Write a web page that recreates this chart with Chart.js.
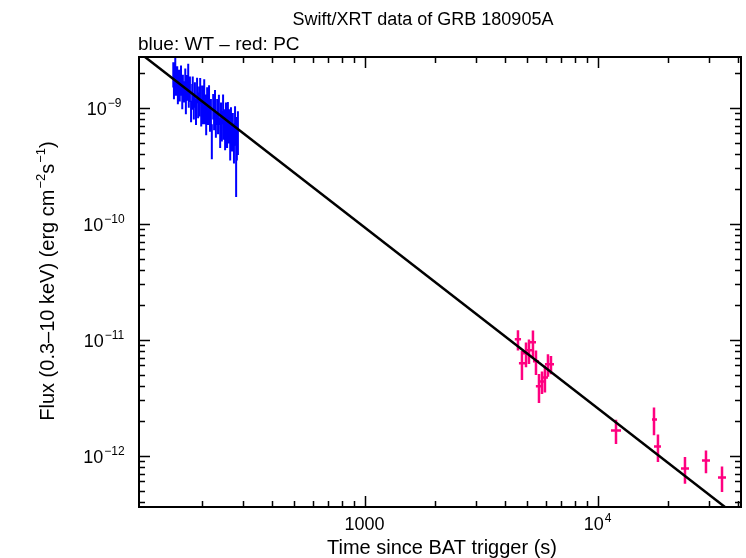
<!DOCTYPE html>
<html>
<head>
<meta charset="utf-8">
<script src="https://cdn.jsdelivr.net/npm/chart.js@4/dist/chart.umd.min.js"></script>
<style>
  body { margin: 0; background: #fff; }
  canvas { display: block; }
</style>
</head>
<body>
<canvas id="grafico" width="746" height="558"></canvas>
<script>
// Dados WT (azul): tempo (s), fluxo e erro do fluxo
const wtTime = [151,152,154,155,157,158,160,161,163,165,166,168,170,171,173,175,176,178,180,182,
  183,185,187,189,191,193,195,197,199,201,203,205,207,209,211,213,215,217,219,221,
  224,226,228,230,233,235,237,240,242,244,247,249,252,254,257,259,262,265,267,270,
  272,275,278,281,283,286];
const wtFlux = [1.98e-9,1.50e-9,2.12e-9,1.61e-9,1.82e-9,1.36e-9,1.70e-9,1.43e-9,1.79e-9,1.23e-9,
  1.54e-9,1.40e-9,1.74e-9,1.11e-9,1.53e-9,1.80e-9,1.27e-9,1.49e-9,0.95e-9,1.28e-9,
  1.49e-9,1.06e-9,1.33e-9,0.95e-9,1.45e-9,1.08e-9,1.18e-9,1.44e-9,0.92e-9,1.24e-9,
  0.96e-9,1.41e-9,1.01e-9,0.78e-9,1.20e-9,1.00e-9,1.25e-9,0.83e-9,0.92e-9,0.54e-9,
  1.05e-9,0.85e-9,1.10e-9,0.73e-9,0.95e-9,0.83e-9,1.00e-9,0.63e-9,0.86e-9,0.72e-9,
  1.01e-9,0.75e-9,0.61e-9,0.86e-9,0.64e-9,0.87e-9,0.73e-9,0.52e-9,0.76e-9,0.62e-9,
  0.66e-9,0.53e-9,0.75e-9,0.34e-9,0.59e-9,0.66e-9];
const wtErr = [0.49e-9,0.32e-9,0.66e-9,0.34e-9,0.46e-9,0.29e-9,0.42e-9,0.30e-9,0.52e-9,0.26e-9,
  0.38e-9,0.29e-9,0.44e-9,0.23e-9,0.38e-9,0.59e-9,0.27e-9,0.37e-9,0.20e-9,0.32e-9,
  0.37e-9,0.27e-9,0.33e-9,0.24e-9,0.36e-9,0.27e-9,0.34e-9,0.36e-9,0.23e-9,0.31e-9,
  0.24e-9,0.35e-9,0.29e-9,0.20e-9,0.30e-9,0.29e-9,0.31e-9,0.21e-9,0.27e-9,0.18e-9,
  0.26e-9,0.21e-9,0.32e-9,0.18e-9,0.24e-9,0.24e-9,0.29e-9,0.18e-9,0.25e-9,0.21e-9,
  0.29e-9,0.22e-9,0.18e-9,0.25e-9,0.19e-9,0.25e-9,0.24e-9,0.17e-9,0.25e-9,0.20e-9,
  0.24e-9,0.20e-9,0.28e-9,0.17e-9,0.24e-9,0.27e-9];

// Dados PC (rosa): tempo, limites do bin, fluxo e erro
const pcTime = [4553,4736,4929,5076,5280,5440,5604,5774,5944,6124,6310,11996,17464,18160,23720,29190,34200];
const pcTimeLo = [4413,4596,4779,4926,5120,5280,5434,5604,5764,5944,6120,11416,17120,17464,22800,28060,32870];
const pcTimeHi = [4693,4876,5079,5226,5440,5600,5774,5944,6124,6304,6500,12604,17990,18710,24680,30370,35570];
const pcFlux = [1.008e-11,6.25e-12,7.62e-12,8.10e-12,9.50e-12,6.51e-12,3.96e-12,4.37e-12,4.73e-12,6.13e-12,6.13e-12,
  1.65e-12,2.05e-12,1.20e-12,7.74e-13,9.07e-13,6.47e-13];
const pcErr = [2.0e-12,1.75e-12,1.83e-12,1.94e-12,2.47e-12,1.56e-12,1.11e-12,0.96e-12,1.23e-12,1.35e-12,1.10e-12,
  0.39e-12,0.55e-12,0.32e-12,2.0e-13,2.0e-13,1.6e-13];

// Modelo (lei de potência) - extremos
const modelTime = [107.6, 41260];
const modelFlux = [3.0e-9, 2.82e-13];

// Limites dos eixos e ticks
const xMin = 107.6, xMax = 41260;
const yMin = 3.61e-13, yMax = 2.735e-9;
const xMajor = [1000, 10000];
const xMajorLabels = [['1000', ''], ['10', '4']];
const yMajor = [1e-9, 1e-10, 1e-11, 1e-12];
const yMajorLabels = [['10', '\u22129'], ['10', '\u221210'], ['10', '\u221211'], ['10', '\u221212']];

const FONTE = '"Liberation Sans", Arial, sans-serif';
const AZUL = '#0000ff';
const ROSA = '#ff0080';

// Desenha texto com expoente (base + sobrescrito)
function textoPotencia(ctx, base, exp, x, y, align) {
    ctx.font = '18px ' + FONTE;
    const wb = ctx.measureText(base).width;
    ctx.font = '12px ' + FONTE;
    const we = exp ? ctx.measureText(exp).width + 1 : 0;
    const total = wb + we;
    let x0 = x;
    if (align === 'center') x0 = x - total / 2;
    if (align === 'right') x0 = x - total;
    ctx.textAlign = 'left';
    ctx.textBaseline = 'alphabetic';
    ctx.font = '18px ' + FONTE;
    ctx.fillText(base, x0, y);
    if (exp) {
        ctx.font = '12px ' + FONTE;
        ctx.fillText(exp, x0 + wb + 1, y - 8);
    }
}

// Gera os ticks menores de um eixo log
function ticksMenores(min, max) {
    const lista = [];
    for (let e = Math.floor(Math.log10(min)); e <= Math.ceil(Math.log10(max)); e++) {
        for (let m = 1; m < 10; m++) {
            const v = m * Math.pow(10, e);
            if (v >= min && v <= max) lista.push({ v: v, major: m === 1 });
        }
    }
    return lista;
}

const pluginBarras = {
    id: 'barrasErro',
    beforeDatasetsDraw(chart) {
        const { ctx, chartArea: a, scales: { x, y } } = chart;
        ctx.save();
        ctx.beginPath();
        ctx.rect(a.left, a.top, a.right - a.left, a.bottom - a.top);
        ctx.clip();

        // WT
        ctx.strokeStyle = AZUL;
        ctx.lineWidth = 2;
        ctx.beginPath();
        wtTime.forEach((t, i) => {
            const px = x.getPixelForValue(t);
            const yc = y.getPixelForValue(wtFlux[i]);
            const y1 = y.getPixelForValue(wtFlux[i] + wtErr[i]);
            const y2 = y.getPixelForValue(Math.max(wtFlux[i] - wtErr[i], yMin * 0.5));
            ctx.moveTo(px, y1); ctx.lineTo(px, y2);
            const xl = x.getPixelForValue(t - 1.4);
            const xr = x.getPixelForValue(t + 1.4);
            ctx.moveTo(xl, yc); ctx.lineTo(xr, yc);
        });
        ctx.stroke();

        // PC
        ctx.strokeStyle = ROSA;
        ctx.lineWidth = 2.5;
        ctx.beginPath();
        pcTime.forEach((t, i) => {
            const px = x.getPixelForValue(t);
            const yc = y.getPixelForValue(pcFlux[i]);
            const y1 = y.getPixelForValue(pcFlux[i] + pcErr[i]);
            const y2 = y.getPixelForValue(pcFlux[i] - pcErr[i]);
            ctx.moveTo(px, y1); ctx.lineTo(px, y2);
            ctx.moveTo(x.getPixelForValue(pcTimeLo[i]), yc);
            ctx.lineTo(x.getPixelForValue(pcTimeHi[i]), yc);
        });
        ctx.stroke();
        ctx.restore();
    },
    afterDraw(chart) {
        const { ctx, chartArea: a, scales: { x, y } } = chart;
        ctx.save();
        ctx.strokeStyle = '#000';
        ctx.fillStyle = '#000';

        // ticks (para dentro, nos quatro lados)
        ctx.lineWidth = 1.5;
        ctx.beginPath();
        ticksMenores(xMin, xMax).forEach(tk => {
            const px = Math.round(x.getPixelForValue(tk.v)) + 0.5;
            const len = tk.major ? 11 : 6;
            ctx.moveTo(px, a.bottom); ctx.lineTo(px, a.bottom - len);
            ctx.moveTo(px, a.top); ctx.lineTo(px, a.top + len);
        });
        ticksMenores(yMin, yMax).forEach(tk => {
            const py = Math.round(y.getPixelForValue(tk.v)) + 0.5;
            const len = tk.major ? 11 : 6;
            ctx.moveTo(a.left, py); ctx.lineTo(a.left + len, py);
            ctx.moveTo(a.right, py); ctx.lineTo(a.right - len, py);
        });
        ctx.stroke();

        // moldura
        ctx.lineWidth = 2;
        ctx.strokeRect(a.left, a.top, a.right - a.left, a.bottom - a.top);

        // rótulos dos ticks
        xMajor.forEach((v, i) => {
            textoPotencia(ctx, xMajorLabels[i][0], xMajorLabels[i][1], x.getPixelForValue(v), 530, 'center');
        });
        yMajor.forEach((v, i) => {
            textoPotencia(ctx, yMajorLabels[i][0], yMajorLabels[i][1], 104, y.getPixelForValue(v) + 7, 'center');
        });

        // títulos
        ctx.font = '18px ' + FONTE;
        ctx.textAlign = 'center';
        ctx.textBaseline = 'alphabetic';
        ctx.fillText('Swift/XRT data of GRB 180905A', 423, 25);
        ctx.font = '20px ' + FONTE;
        ctx.fillText('Time since BAT trigger (s)', 442, 554);
        ctx.font = '19px ' + FONTE;
        ctx.textAlign = 'left';
        ctx.fillText('blue: WT \u2013 red: PC', 138, 50);

        // rótulo do eixo Y (rotacionado, com sobrescritos)
        ctx.translate(54, 281);
        ctx.rotate(-Math.PI / 2);
        const partes = [['Flux (0.3\u201310 keV) (erg cm', false], ['\u22122', true], ['s', false], ['\u22121', true], [')', false]];
        const fonteParte = p => (p[1] ? '13px ' : '20px ') + FONTE;
        let larg = 0;
        partes.forEach(p => {
            ctx.font = fonteParte(p);
            larg += ctx.measureText(p[0]).width + (p[1] ? 1 : 0);
        });
        let cx = -larg / 2;
        partes.forEach(p => {
            ctx.font = fonteParte(p);
            ctx.fillText(p[0], cx + (p[1] ? 1 : 0), p[1] ? -9 : 0);
            cx += ctx.measureText(p[0]).width + (p[1] ? 1 : 0);
        });
        ctx.restore();
    }
};

const ctxGrafico = document.getElementById('grafico').getContext('2d');
new Chart(ctxGrafico, {
    type: 'scatter',
    data: {
        datasets: [
            { label: 'WT', data: wtTime.map((t, i) => ({ x: t, y: wtFlux[i] })), pointRadius: 0, showLine: false },
            { label: 'PC', data: pcTime.map((t, i) => ({ x: t, y: pcFlux[i] })), pointRadius: 0, showLine: false },
            {
                label: 'Modelo',
                data: modelTime.map((t, i) => ({ x: t, y: modelFlux[i] })),
                showLine: true, borderColor: '#000', borderWidth: 2.5, pointRadius: 0, fill: false
            }
        ]
    },
    options: {
        responsive: false,
        devicePixelRatio: 1,
        animation: false,
        layout: { padding: { left: 139, right: 5, top: 57, bottom: 51 } },
        plugins: { legend: { display: false }, tooltip: { enabled: false } },
        scales: {
            x: { type: 'logarithmic', min: xMin, max: xMax, display: false },
            y: { type: 'logarithmic', min: yMin, max: yMax, display: false }
        }
    },
    plugins: [pluginBarras]
});
</script>
</body>
</html>
